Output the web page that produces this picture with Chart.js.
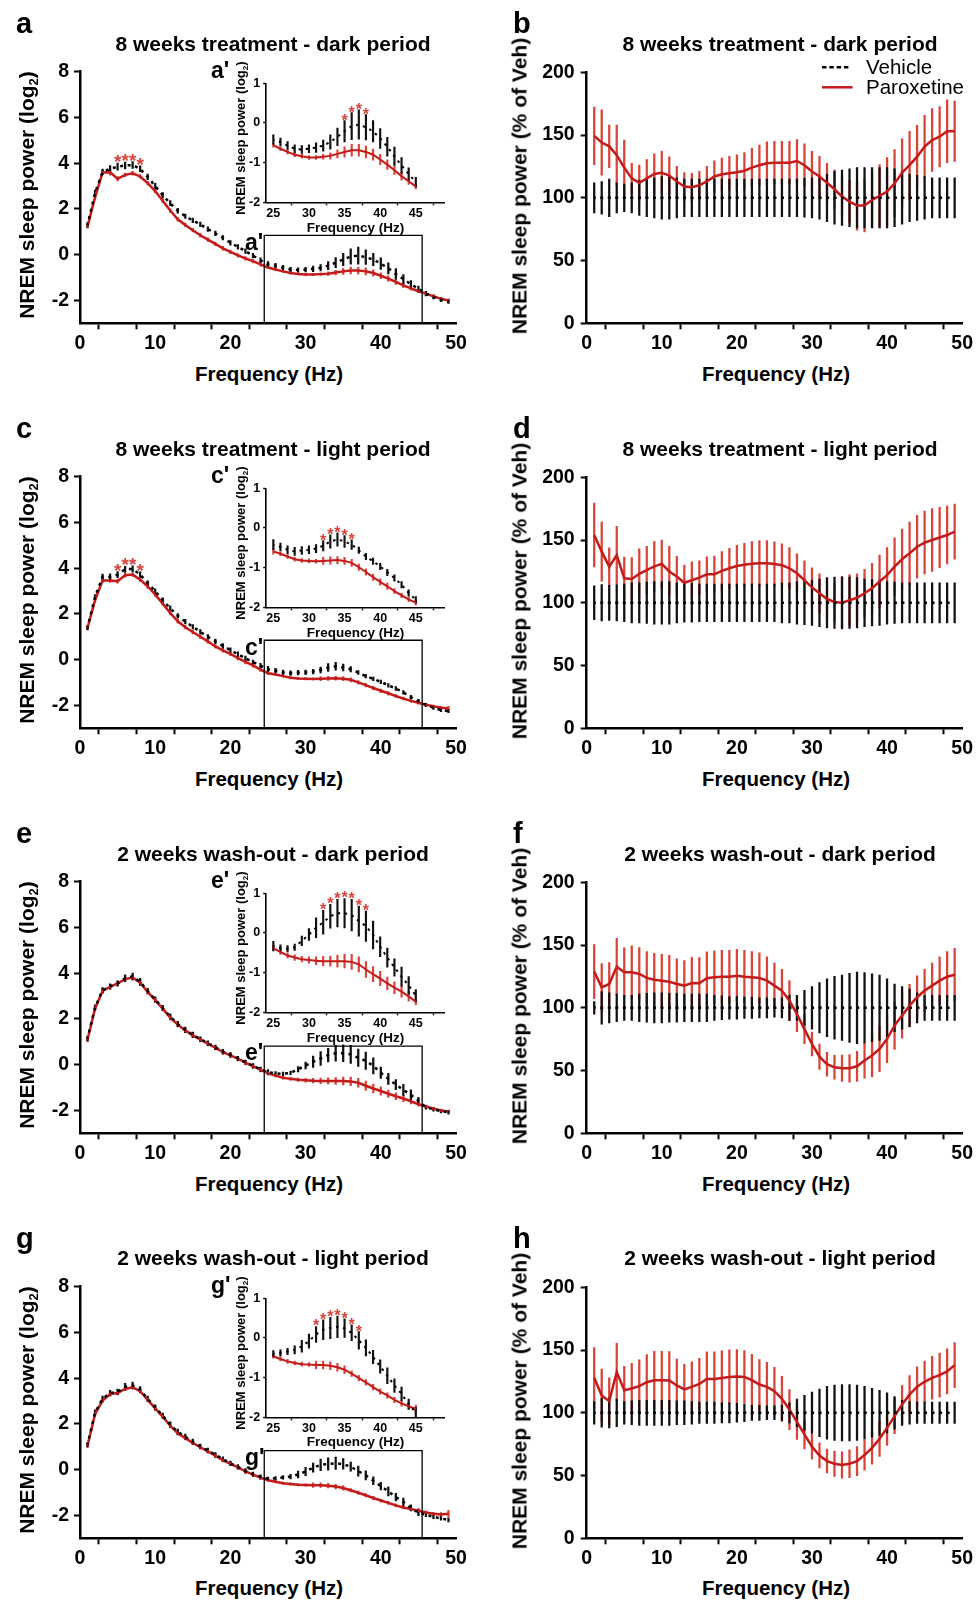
<!DOCTYPE html>
<html><head><meta charset="utf-8">
<script src="https://cdn.jsdelivr.net/npm/chart.js@4.4.1/dist/chart.umd.min.js"></script>
<style>
html,body{margin:0;padding:0;background:#fff;}
body{position:relative;width:976px;height:1600px;overflow:hidden;font-family:'Liberation Sans',Arial,Helvetica,sans-serif;}
canvas{position:absolute;}
.t{position:absolute;white-space:nowrap;line-height:1;font-weight:bold;color:#000;}
.sub{font-size:0.62em;position:relative;top:0.32em;}
</style></head><body>
<script>
// ---------------- DATA ----------------
const freqs = [1,2,3,4,5,6,7,8,9,10,11,12,13,14,15,16,17,18,19,20,21,22,23,24,25,26,27,28,29,30,31,32,33,34,35,36,37,38,39,40,41,42,43,44,45,46,47,48,49];
const panelTitles = ['8 weeks treatment - dark period','8 weeks treatment - light period','2 weeks wash-out - dark period','2 weeks wash-out - light period'];
const legendLabels = ['Vehicle','Paroxetine'];
const xTitle = 'Frequency (Hz)';
const yTitleLog = 'NREM sleep power (log<span class="sub">2</span>)';
const yTitlePct = 'NREM sleep power (% of Veh)';
const xTicksMain = [0,5,10,15,20,25,30,35,40,45,50];
const xLabelsMain = [0,10,20,30,40,50];
const yTicksLog = [-2,0,2,4,6,8];
const yTicksPct = [0,50,100,150,200];
const xTicksInset = [25,30,35,40,45];
const yTicksInset = [-2,-1,0,1];
const zoomBoxX = [24.5,45.5];

// a / a' : 8 weeks treatment, dark (log2 power)
const vehA = [1.3,2.7,3.62,3.75,3.85,3.9,3.92,3.75,3.4,3.0, 2.6,2.25,1.92,1.68,1.5,1.32,1.12,0.93,0.74,0.52, 0.34,0.16,-0.04,-0.24,-0.42,-0.48,-0.57,-0.65,-0.67,-0.65, -0.62,-0.57,-0.48,-0.35,-0.21,-0.08,-0.04,-0.11,-0.21,-0.39, -0.6,-0.84,-1.07,-1.29,-1.49,-1.7,-1.85,-1.97,-2.05];
const vehSemA = [0.1,0.12,0.12,0.15,0.15,0.15,0.15,0.13,0.12,0.12, 0.12,0.11,0.11,0.1,0.1,0.1,0.1,0.1,0.1,0.1, 0.1,0.1,0.1,0.1,0.12,0.1,0.1,0.1,0.1,0.1, 0.12,0.14,0.18,0.22,0.27,0.34,0.37,0.32,0.27,0.25, 0.24,0.23,0.2,0.16,0.12,0.1,0.08,0.08,0.08];
const parA = [1.24,2.5,3.59,3.6,3.32,3.49,3.56,3.42,3.13,2.78, 2.36,1.93,1.55,1.3,1.07,0.85,0.66,0.47,0.28,0.12, -0.03,-0.16,-0.28,-0.42,-0.56,-0.65,-0.73,-0.8,-0.84,-0.87, -0.87,-0.85,-0.83,-0.78,-0.73,-0.69,-0.69,-0.73,-0.8,-0.92, -1.05,-1.19,-1.34,-1.47,-1.6,-1.7,-1.82,-1.93,-2.0];
const parSemA = [0.08,0.08,0.1,0.12,0.1,0.08,0.08,0.08,0.08,0.08, 0.08,0.08,0.08,0.08,0.08,0.08,0.08,0.08,0.08,0.08, 0.08,0.08,0.08,0.08,0.05,0.05,0.05,0.05,0.05,0.05, 0.05,0.06,0.08,0.1,0.13,0.15,0.15,0.15,0.14,0.13, 0.12,0.11,0.1,0.08,0.06,0.06,0.06,0.06,0.07];
const sigA = [5,6,7,8];
const sigAInset = [35,36,37,38];
const boxTopA = 0.84;

// c / c' : 8 weeks treatment, light
const vehC = [1.4,2.75,3.62,3.62,3.72,3.95,3.97,3.72,3.35,3.0, 2.6,2.25,1.92,1.66,1.44,1.22,1.0,0.8,0.6,0.42, 0.24,0.06,-0.1,-0.26,-0.42,-0.48,-0.55,-0.59,-0.57,-0.55, -0.52,-0.45,-0.34,-0.29,-0.34,-0.42,-0.56,-0.72,-0.84,-0.97, -1.12,-1.26,-1.43,-1.64,-1.81,-1.98,-2.1,-2.2,-2.25];
const vehSemC = [0.1,0.1,0.12,0.13,0.13,0.13,0.13,0.12,0.1,0.1, 0.1,0.1,0.1,0.1,0.1,0.1,0.1,0.1,0.1,0.1, 0.1,0.1,0.1,0.1,0.13,0.1,0.1,0.1,0.1,0.1, 0.1,0.13,0.17,0.17,0.15,0.12,0.08,0.08,0.08,0.08, 0.08,0.08,0.08,0.08,0.08,0.07,0.07,0.07,0.07];
const parC = [1.39,2.6,3.46,3.46,3.43,3.69,3.72,3.5,3.2,2.85, 2.45,2.04,1.68,1.42,1.21,1.0,0.8,0.58,0.41,0.25, 0.07,-0.1,-0.25,-0.43,-0.59,-0.65,-0.72,-0.79,-0.82,-0.83, -0.84,-0.83,-0.82,-0.81,-0.83,-0.88,-0.99,-1.11,-1.24,-1.36, -1.47,-1.59,-1.7,-1.8,-1.88,-1.97,-2.04,-2.1,-2.12];
const parSemC = [0.08,0.08,0.08,0.08,0.08,0.08,0.08,0.08,0.08,0.08, 0.08,0.08,0.08,0.08,0.08,0.08,0.08,0.08,0.08,0.08, 0.08,0.08,0.08,0.08,0.07,0.05,0.05,0.05,0.05,0.05, 0.05,0.09,0.09,0.09,0.09,0.09,0.08,0.08,0.08,0.08, 0.08,0.06,0.06,0.06,0.06,0.06,0.06,0.06,0.08];
const sigC = [5,6,7,8];
const sigCInset = [32,33,34,35,36];
const boxTopC = 0.85;

// e / e' : 2 weeks wash-out, dark
const vehE = [1.15,2.5,3.25,3.42,3.55,3.78,3.86,3.62,3.22,2.85, 2.48,2.1,1.78,1.52,1.3,1.12,0.94,0.76,0.57,0.43, 0.27,0.1,-0.05,-0.2,-0.33,-0.38,-0.4,-0.36,-0.2,-0.04, 0.13,0.27,0.42,0.5,0.5,0.45,0.3,0.17,-0.05,-0.35, -0.62,-0.87,-1.1,-1.32,-1.58,-1.86,-1.95,-2.03,-2.08];
const vehSemE = [0.1,0.12,0.12,0.12,0.12,0.15,0.15,0.15,0.12,0.12, 0.12,0.12,0.12,0.12,0.12,0.1,0.1,0.1,0.1,0.1, 0.1,0.1,0.1,0.1,0.12,0.08,0.08,0.08,0.12,0.15, 0.25,0.3,0.3,0.35,0.37,0.4,0.38,0.38,0.35,0.25, 0.24,0.22,0.24,0.22,0.15,0.08,0.08,0.08,0.08];
const parE = [1.1,2.45,3.23,3.4,3.55,3.74,3.81,3.58,3.18,2.82, 2.45,2.06,1.75,1.5,1.28,1.1,0.92,0.74,0.55,0.41, 0.26,0.09,-0.06,-0.22,-0.38,-0.48,-0.57,-0.62,-0.66,-0.68, -0.7,-0.71,-0.71,-0.71,-0.71,-0.73,-0.79,-0.92,-1.04,-1.15, -1.27,-1.38,-1.48,-1.6,-1.73,-1.83,-1.92,-2.0,-2.05];
const parSemE = [0.1,0.1,0.1,0.1,0.1,0.1,0.1,0.1,0.1,0.1, 0.1,0.1,0.1,0.1,0.1,0.1,0.1,0.1,0.1,0.1, 0.1,0.1,0.1,0.1,0.06,0.06,0.06,0.07,0.07,0.08, 0.1,0.12,0.13,0.15,0.17,0.19,0.19,0.2,0.19,0.18, 0.16,0.15,0.14,0.12,0.08,0.06,0.06,0.06,0.06];
const sigE = [];
const sigEInset = [32,33,34,35,36,37,38];
const boxTopE = 0.81;

// g / g' : 2 weeks wash-out, light
const vehG = [1.1,2.5,3.1,3.35,3.4,3.62,3.68,3.5,3.1,2.72, 2.36,1.97,1.65,1.44,1.22,1.02,0.84,0.65,0.46,0.28, 0.12,-0.05,-0.2,-0.32,-0.4,-0.38,-0.34,-0.3,-0.21,-0.08, 0.09,0.21,0.25,0.28,0.24,0.13,-0.06,-0.25,-0.48,-0.72, -0.95,-1.2,-1.41,-1.67,-1.88,-1.97,-2.06,-2.13,-2.2];
const vehSemG = [0.1,0.12,0.12,0.12,0.12,0.15,0.15,0.13,0.12,0.12, 0.12,0.12,0.12,0.12,0.12,0.1,0.1,0.1,0.1,0.1, 0.1,0.1,0.1,0.1,0.08,0.08,0.08,0.1,0.15,0.18, 0.2,0.25,0.27,0.27,0.24,0.2,0.22,0.2,0.17,0.17, 0.2,0.17,0.17,0.13,0.13,0.08,0.08,0.08,0.08];
const parG = [1.05,2.43,3.02,3.31,3.35,3.53,3.6,3.43,3.05,2.68, 2.32,1.92,1.59,1.38,1.17,0.98,0.8,0.61,0.42,0.25, 0.1,-0.07,-0.22,-0.34,-0.46,-0.53,-0.59,-0.63,-0.66,-0.67, -0.68,-0.68,-0.7,-0.74,-0.8,-0.9,-1.01,-1.12,-1.24,-1.35, -1.45,-1.56,-1.65,-1.72,-1.79,-1.87,-1.93,-1.96,-1.93];
const parSemG = [0.08,0.08,0.08,0.08,0.08,0.08,0.08,0.08,0.08,0.08, 0.08,0.08,0.08,0.08,0.08,0.08,0.08,0.08,0.08,0.08, 0.08,0.08,0.08,0.08,0.05,0.05,0.05,0.05,0.05,0.05, 0.1,0.1,0.1,0.1,0.1,0.07,0.07,0.07,0.07,0.07, 0.07,0.07,0.07,0.07,0.1,0.07,0.07,0.08,0.15];
const sigG = [];
const sigGInset = [31,32,33,34,35,36,37];
const boxTopG = 0.83;

// right panels: % of vehicle
const vehPct = [100,100,100,100,100,100,100,100,100,100, 100,100,100,100,100,100,100,100,100,100, 100,100,100,100,100,100,100,100,100,100, 100,100,100,100,100,100,100,100,100,100, 100,100,100,100,100,100,100,100,100];
const parB = [149.3,144,141,134,124,115.5,112,115.5,119,120, 117.7,113,109,108.4,110,113,117,118.7,119.5,120.3, 121.6,124,126,127.5,128,128,128,129.3,126,121, 117,112,106.8,101,97,93.8,93.8,98.3,101.5,105, 111.5,120,126,132.8,140.8,146,148.7,153,153];
const parSemB = [23,26,17,24,22,12,14,15,16,17, 15,12,11,11,11,12,12.5,13,13.5,14, 14.5,15.5,16,17,17,17,17,17,17,16, 16,15.5,15.5,16,17,19.5,21,22,25,27, 27,27,27,25,25,25,24,25,24];
const vehSemB = [12,13,15,12,11,12,14,15,16,17, 17,16,15,15,15,15,15,15,15,15, 15,15,15,15,15,15,15,15,15.5,16, 17,19,21,22,23,24,24,24,24,24, 23,21,19,18,17,16,16,16,16];

const parD = [154,140.8,128.8,138,119.5,119,123,126,129,131, 125,121,116,118,120,122.7,122.7,125.4,127.5,129.3, 130.4,131.2,131.5,131.5,131,130,127.5,123.5,118,112.3, 107.6,103,100.7,100,102,104,107.6,111.5,117,122, 128.8,134.7,139.4,144.7,148,150,152,154,156.7];
const parSemD = [25.5,23.6,15,23,17,17,20,19,20,19, 20,16,14,14.6,13.5,14,14.5,15.5,16,16.5, 17,17.5,18,18,17.5,17,16.5,15.5,15.5,15.5, 15.5,15.5,15.5,21,20.5,19,19,20,21,22, 23,24,25,25,25,25,24,23,22];
const vehSemD = [13.5,14.5,14,14.5,15,16,16,16.5,17,17, 17,16,15.5,15.5,15,15,15,15,15,15, 15,15,15,15,15,16,16,17,17.5,18, 19,20,20.5,20.5,20.5,20,19,18.5,18,17, 16.5,16,16,16,16,16,16,16,16];

const parF = [128.8,116.3,119,132.8,128.3,128.3,127,123.8,122.4,121.6, 120.8,119,117.7,119.8,119.5,123.5,124.3,124.8,124.8,125.6, 124.8,124.3,123.8,121.6,117.7,113.7,105.7,95,83,71.2, 61,55,52.6,51.8,51.8,53.4,58,62,67.2,75.2, 85.8,93.8,101.7,108.4,113.7,117.7,121.6,124.8,126.4];
const parSemF = [21.6,19,17,22.6,19.5,21,21,21,21,21, 21,20,20,20.5,20.5,21,21,21,21,21, 21,20.5,20,19,18,17,16,14,11.5,9.5, 10,9.5,9.5,10.5,11,12,14,17,18,19, 19,18,17,17,17,18,19,20,21];
const vehSemF = [5,13,12,11,10,10,11,11.5,12,12, 11.5,11.5,11,11,11,11,10,9.5,9,9, 8.5,8.5,8,8,7.5,8,10,10,14,17, 20,23,25,26,27.5,28.5,28,27,26,23, 19,17,15,12,10,10,10,10,10];

const parH = [127.9,113.8,109.3,132.4,118,119.4,121.2,124.4,126,126, 125.7,121.8,118.6,120.7,123,127,127,127.8,128.6,128.9, 128.6,126,122.5,120.7,117.2,111.1,102.6,92.8,82.8,73, 66,61.5,59.4,58.4,59.4,61.5,66.3,72.1,79.3,88, 97.3,106.6,114.6,120.7,124.7,127.9,130,133,138];
const parSemH = [24,21,18.5,23,19,20,21,22,23,23, 23,21,20,20,20.5,21.5,21.5,21.5,21.5,21.5, 21,20.5,20,19.5,19,18,16,14,11.5,10, 10,9.5,10,10.5,11,11.5,12,13,14,14, 14,15,15,16,16.5,17,17.5,18,18];
const vehSemH = [9,11.5,12,11,9,9.5,10,10,10,10, 10,9.5,9.5,9,8.5,8.5,8.5,8,8,7.5, 7,6,6,5.5,5.5,6,8,11,14,16.5, 19,21,22,22.5,22.5,22,21,19.5,18,16, 13,10,9,8.5,8.5,8.5,8.5,8.5,8.5];

// ---------------- DRAWING ----------------
const FONT = "'Liberation Sans', Arial, Helvetica, sans-serif";
const RED = '#c41a1a';
const RED_BAR = '#d9443a';

function pts(xs, m){ return xs.map((x,i)=>({x:x, y:m[i]})); }
function errs(xs, m, s){ return xs.map((x,i)=>({x:x, y:[m[i]-s[i], m[i]+s[i]]})); }

let pluginCount = 0;
function starPlugin(xs, mean, sem, sig, size, lift){
  pluginCount++;
  return {id:'stars'+pluginCount, afterDatasetsDraw(chart){
    if(!sig.length) return;
    const ctx = chart.ctx, sx = chart.scales.x, sy = chart.scales.y;
    ctx.save();
    ctx.fillStyle = RED_BAR; ctx.font = 'bold '+size+'px '+FONT;
    ctx.textAlign = 'center'; ctx.textBaseline = 'alphabetic';
    sig.forEach(f=>{
      const i = xs.indexOf(f); if(i<0) return;
      ctx.fillText('*', sx.getPixelForValue(f), sy.getPixelForValue(mean[i]+sem[i]) + lift);
    });
    ctx.restore();
  }};
}

function panel(o){
  const c = document.createElement('canvas');
  c.width = o.w; c.height = o.h;
  c.style.left = o.left+'px'; c.style.top = o.top+'px';
  c.style.width = o.w+'px'; c.style.height = o.h+'px';
  document.body.appendChild(c);
  const ds = [
    {type:'bar', data:errs(o.xs,o.par,o.parSem), backgroundColor:RED_BAR, barThickness:o.barW, grouped:false, borderWidth:0, order:4},
    {type:'bar', data:errs(o.xs,o.veh,o.vehSem), backgroundColor:'#111', barThickness:o.barW, grouped:false, borderWidth:0, order:3},
    {type:'line', data:pts(o.xs,o.par), borderColor:RED, borderWidth:o.lw, pointRadius:0, tension:0, fill:false, order:2},
    {type:'line', data:pts(o.xs,o.veh), borderColor:'#000', borderWidth:o.lw, borderDash:o.dash, borderDashOffset:o.dashOff, pointRadius:0, tension:0, fill:false, order:1}
  ];
  if(o.box) ds.push({type:'line', data:o.box, borderColor:'#000', borderWidth:1.3, pointRadius:0, tension:0, fill:false, order:0});
  const tickFont = {family:FONT, size:o.fs, weight:'bold'};
  function sc(min,max,tv,lv,pad,fit){
    return {type:'linear', min:min, max:max, offset:false, bounds:'data',
      afterBuildTicks:s=>{ s.ticks = tv.map(v=>({value:v})); },
      afterFit:fit,
      ticks:{autoSkip:false, maxRotation:0, minRotation:0, color:'#000', font:tickFont, padding:pad,
             callback:v=> lv.includes(v) ? String(v) : ''},
      grid:{drawOnChartArea:false, drawTicks:true, tickLength:o.tl, tickWidth:o.tw, tickColor:'#000', color:'#000'},
      border:{display:true, color:'#000', width:o.aw}};
  }
  new Chart(c, {
    type:'line',
    data:{datasets:ds},
    options:{responsive:false, animation:false, events:[],
      layout:{padding:{left:0, top:o.pt, right:o.pr, bottom:0}},
      plugins:{legend:{display:false}, tooltip:{enabled:false}},
      scales:{
        x: sc(o.xMin,o.xMax,o.xTicks,o.xLabels,o.xpad, s=>{ s.height = o.xh; }),
        y: sc(o.yMin,o.yMax,o.yTicks,o.yTicks,o.ypad, s=>{ s.width = o.yw; })
      }},
    plugins:[starPlugin(o.xs,o.veh,o.vehSem,o.sig||[],o.starSize||16,o.starLift||7)]
  });
}

function text(html, x, y, size, opts){
  opts = opts || {};
  const d = document.createElement('div');
  d.className = 't'; d.innerHTML = html;
  d.style.fontSize = size+'px'; d.style.left = x+'px'; d.style.top = y+'px';
  let tr = opts.left ? 'translate(0,-50%)' : 'translate(-50%,-50%)';
  if(opts.rot) tr += ' rotate(-90deg)';
  d.style.transform = tr;
  if(opts.normal) d.style.fontWeight = 'normal';
  document.body.appendChild(d);
}

const rowsY = [0, 405, 810, 1214.5];
const leftSets = [
  {veh:vehA, vehSem:vehSemA, par:parA, parSem:parSemA, sig:sigA, sigIn:sigAInset, boxTop:boxTopA, L:'a'},
  {veh:vehC, vehSem:vehSemC, par:parC, parSem:parSemC, sig:sigC, sigIn:sigCInset, boxTop:boxTopC, L:'c'},
  {veh:vehE, vehSem:vehSemE, par:parE, parSem:parSemE, sig:sigE, sigIn:sigEInset, boxTop:boxTopE, L:'e'},
  {veh:vehG, vehSem:vehSemG, par:parG, parSem:parSemG, sig:sigG, sigIn:sigGInset, boxTop:boxTopG, L:'g'}
];
const rightSets = [
  {par:parB, parSem:parSemB, vehSem:vehSemB, L:'b'},
  {par:parD, parSem:parSemD, vehSem:vehSemD, L:'d'},
  {par:parF, parSem:parSemF, vehSem:vehSemF, L:'f'},
  {par:parH, parSem:parSemH, vehSem:vehSemH, L:'h'}
];

rowsY.forEach((dy, r)=>{
  const Ls = leftSets[r], Rs = rightSets[r];
  // main log2 panel
  panel({left:0, top:dy, w:470, h:360, pt:71.7, pr:14, yw:80, xh:36.7,
    xs:freqs, veh:Ls.veh, vehSem:Ls.vehSem, par:Ls.par, parSem:Ls.parSem,
    xMin:0, xMax:50, yMin:-3, yMax:8, xTicks:xTicksMain, xLabels:xLabelsMain, yTicks:yTicksLog,
    fs:19.5, tl:6, tw:2, aw:2.5, xpad:3, ypad:5, lw:2.5, barW:1.6, dash:[3,4.53], dashOff:1.5,
    box:[{x:zoomBoxX[0],y:-3},{x:zoomBoxX[0],y:Ls.boxTop},{x:zoomBoxX[1],y:Ls.boxTop},{x:zoomBoxX[1],y:-3}],
    sig:Ls.sig, starSize:19, starLift:5});
  // inset
  const s0 = 24, s1 = 45;
  panel({left:200, top:dy+60, w:260, h:165, pt:23.3, pr:15.7, yw:66.2, xh:22.7,
    xs:freqs.slice(s0,s1), veh:Ls.veh.slice(s0,s1), vehSem:Ls.vehSem.slice(s0,s1), par:Ls.par.slice(s0,s1), parSem:Ls.parSem.slice(s0,s1),
    xMin:24, xMax:49, yMin:-2, yMax:1, xTicks:xTicksInset, xLabels:xTicksInset, yTicks:yTicksInset,
    fs:12.5, tl:3, tw:1.4, aw:1.6, xpad:1, ypad:3, lw:2, barW:1.5, dash:[2.5,4.62], dashOff:1.25,
    sig:Ls.sigIn, starSize:16, starLift:5});
  // right % panel
  panel({left:480, top:dy, w:496, h:360, pt:72.3, pr:12.7, yw:106.7, xh:36.7,
    xs:freqs, veh:vehPct, vehSem:Rs.vehSem, par:Rs.par, parSem:Rs.parSem,
    xMin:0, xMax:50, yMin:0, yMax:200, xTicks:xTicksMain, xLabels:xLabelsMain, yTicks:yTicksPct,
    fs:19.5, tl:6, tw:2, aw:2.5, xpad:3, ypad:6, lw:2.5, barW:1.6, dash:[3,4.53], dashOff:1.5});

  // texts
  text(Ls.L, 16, 23.3+dy, 29, {left:true});
  text(Rs.L, 513, 23.3+dy, 29, {left:true});
  text(panelTitles[r], 273, 42.5+dy, 21);
  text(panelTitles[r], 780, 42.8+dy, 21);
  text(yTitleLog, 26, 195+dy, 21, {rot:true});
  text(yTitlePct, 519, 186+dy, 21, {rot:true});
  text(xTitle, 269, 373.7+dy, 20.5);
  text(xTitle, 776, 373.7+dy, 20.5);
  text(Ls.L+"'", 211, 70.3+dy, 23, {left:true});
  text(Ls.L+"'", 245, 242+dy, 23, {left:true});
  text(yTitleLog, 240.5, 138.3+dy, 13, {rot:true});
  text(xTitle, 355.5, 227.5+dy, 13.5);
});

// legend (panel b)
const svgNS = 'http://www.w3.org/2000/svg';
const lg = document.createElementNS(svgNS,'svg');
lg.setAttribute('width','34'); lg.setAttribute('height','34');
lg.style.position='absolute'; lg.style.left='822px'; lg.style.top='60px';
[[0,'#000','4.5 2.8',26.5],[20,RED,'none',30.5]].forEach(p=>{
  const l = document.createElementNS(svgNS,'line');
  l.setAttribute('x1','0'); l.setAttribute('x2',String(p[3]));
  l.setAttribute('y1',String(7.3+p[0])); l.setAttribute('y2',String(7.3+p[0]));
  l.setAttribute('stroke',p[1]); l.setAttribute('stroke-width','2.5');
  if(p[2]!=='none') l.setAttribute('stroke-dasharray',p[2]);
  lg.appendChild(l);
});
document.body.appendChild(lg);
text(legendLabels[0], 866, 67, 20.5, {left:true, normal:true});
text(legendLabels[1], 866, 87.2, 20.5, {left:true, normal:true});
</script>
</body></html>
